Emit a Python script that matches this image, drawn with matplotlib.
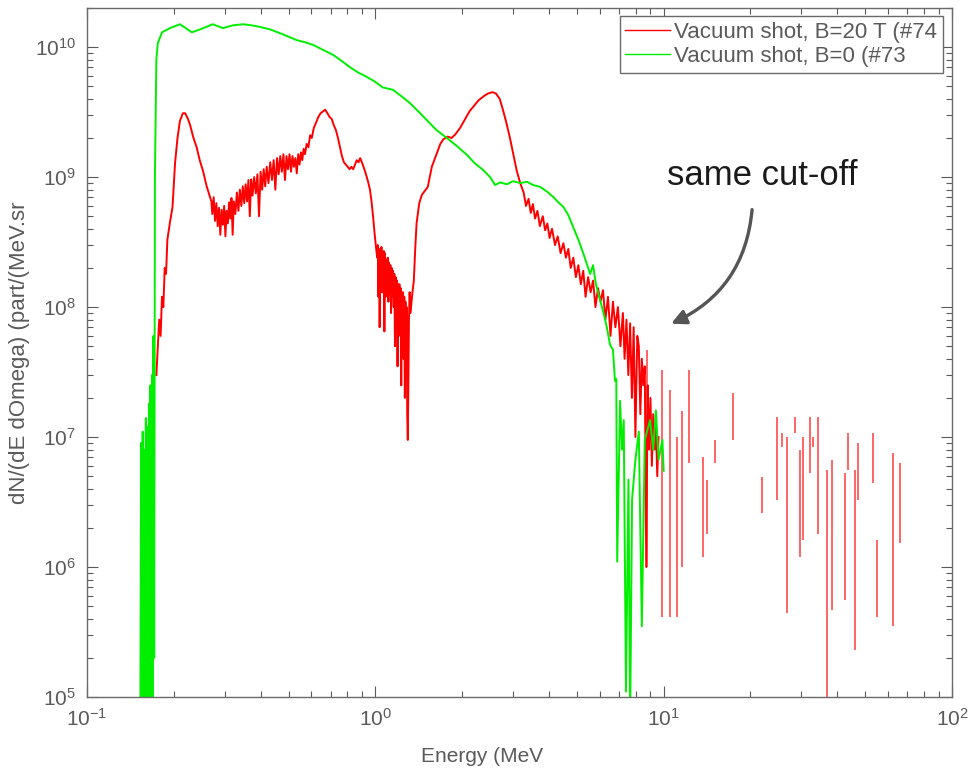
import numpy as np
import matplotlib
matplotlib.use("Agg")
import matplotlib.pyplot as plt

plt.rcParams['font.family'] = ['Liberation Sans', 'DejaVu Sans']
plt.rcParams['mathtext.fontset'] = 'custom'
plt.rcParams['mathtext.rm'] = 'Liberation Sans'
plt.rcParams['mathtext.it'] = 'Liberation Sans:italic'
plt.rcParams['mathtext.bf'] = 'Liberation Sans:bold'

# ---------------- data ----------------
# B = 0 (#73), green
green_E = [0.153, 0.154, 0.155, 0.156, 0.157, 0.158, 0.159, 0.160, 0.161, 0.162,
           0.163, 0.164, 0.165, 0.166, 0.167, 0.168, 0.169, 0.170, 0.171, 0.172,
           0.174, 0.176, 0.182, 0.194, 0.210, 0.220, 0.231, 0.247, 0.273, 0.296,
           0.320, 0.348, 0.373, 0.398, 0.431, 0.467, 0.506, 0.535, 0.570, 0.609,
           0.660, 0.715, 0.760, 0.817, 0.870, 0.934, 1.00, 1.06, 1.15, 1.23,
           1.32, 1.41, 1.52, 1.63, 1.77, 1.92, 2.08, 2.21, 2.37, 2.50,
           2.60, 2.71, 2.86, 3.00, 3.18, 3.36, 3.52, 3.73, 3.95, 4.15,
           4.31, 4.49, 4.67, 4.86, 5.06, 5.26, 5.43, 5.56, 5.69, 5.82,
           6.02, 6.21, 6.35, 6.52, 6.67, 6.78, 6.85, 6.90, 7.06, 7.17,
           7.27, 7.40, 7.55, 7.65, 7.77, 7.98, 8.20, 8.40, 8.60, 8.97,
           9.20, 9.40, 9.60, 9.90, 10.0]
green_N = [3e4, 9e6, 4e4, 1.1e7, 3e4, 8e6, 5e4, 1.4e7, 3e4, 1.2e7,
           2e4, 1.8e7, 4e4, 2.5e7, 3e4, 3.0e7, 5e4, 6.0e7, 2e5, 1.0e9,
           8.0e9, 1.07e10, 1.3e10, 1.4e10, 1.5e10, 1.4e10, 1.3e10, 1.37e10, 1.5e10, 1.4e10,
           1.47e10, 1.5e10, 1.47e10, 1.43e10, 1.37e10, 1.28e10, 1.19e10, 1.13e10, 1.09e10, 1.04e10,
           9.5e9, 8.7e9, 7.9e9, 7.0e9, 6.4e9, 5.9e9, 5.4e9, 4.9e9, 4.7e9, 4.2e9,
           3.7e9, 3.2e9, 2.7e9, 2.3e9, 2.0e9, 1.73e9, 1.48e9, 1.28e9, 1.13e9, 1.0e9,
           8.7e8, 9.1e8, 8.8e8, 9.3e8, 9.0e8, 9.2e8, 8.7e8, 8.4e8, 7.7e8, 7.0e8,
           6.4e8, 5.9e8, 5.1e8, 4.1e8, 3.3e8, 2.6e8, 2.1e8, 1.8e8, 2.1e8, 1.5e8,
           1.13e8, 8.7e7, 7.0e7, 5.1e7, 4.7e7, 2.7e7, 2.8e7, 1.1e6, 1.9e7, 8.0e6,
           1.35e7, 1.1e5, 4.7e6, 6.0e4, 3.3e6, 6.7e6, 1.1e7, 3.5e5, 9.5e6, 1.35e7,
           8.0e6, 1.6e7, 6.7e6, 9.5e6, 5.5e6]

# B = 20 T (#74), red
red_E = [0.174, 0.176, 0.178, 0.180, 0.182, 0.184, 0.186, 0.188, 0.190, 0.194,
         0.198, 0.202, 0.206, 0.210, 0.215, 0.219, 0.224, 0.228, 0.234, 0.240,
         0.246, 0.253, 0.260, 0.266, 0.270, 0.272, 0.275, 0.278, 0.281, 0.284,
         0.287, 0.290, 0.293, 0.296, 0.299, 0.302, 0.305, 0.308, 0.311, 0.314,
         0.317, 0.320, 0.323, 0.327, 0.331, 0.335, 0.339, 0.343, 0.347, 0.351,
         0.355, 0.359, 0.363, 0.367, 0.371, 0.375, 0.380, 0.385, 0.390, 0.395,
         0.400, 0.405, 0.410, 0.415, 0.420, 0.426, 0.432, 0.438, 0.444, 0.450,
         0.456, 0.462, 0.468, 0.474, 0.480, 0.486, 0.492, 0.498, 0.504, 0.510,
         0.516, 0.522, 0.528, 0.534, 0.540, 0.546, 0.552, 0.558, 0.564, 0.570,
         0.578, 0.586, 0.594, 0.602, 0.612, 0.622, 0.634, 0.646, 0.658, 0.670,
         0.682, 0.694, 0.706, 0.718, 0.730, 0.742, 0.754, 0.766, 0.778, 0.790,
         0.802, 0.814, 0.826, 0.838, 0.850, 0.862, 0.874, 0.886, 0.898, 0.910,
         0.922, 0.934, 0.946, 0.958, 0.970, 0.982, 0.994, 1.005, 1.015, 1.020,
         1.025, 1.030, 1.035, 1.040, 1.045, 1.050, 1.055, 1.060, 1.065, 1.070,
         1.075, 1.080, 1.086, 1.092, 1.098, 1.104, 1.110, 1.116, 1.122, 1.128,
         1.134, 1.140, 1.146, 1.152, 1.158, 1.164, 1.170, 1.176, 1.182, 1.188,
         1.194, 1.200, 1.206, 1.212, 1.218, 1.224, 1.230, 1.236, 1.242, 1.248,
         1.254, 1.260, 1.266, 1.272, 1.278, 1.284, 1.290, 1.296, 1.302, 1.308,
         1.315, 1.322, 1.330, 1.345, 1.360, 1.375, 1.390, 1.420, 1.450, 1.520,
         1.570, 1.630, 1.680, 1.720, 1.780, 1.840, 1.900, 1.970, 2.050, 2.120,
         2.190, 2.280, 2.380, 2.460, 2.550, 2.620, 2.700, 2.770, 2.850, 2.930,
         3.010, 3.090, 3.180, 3.270, 3.330, 3.400, 3.460, 3.520, 3.580, 3.650,
         3.720, 3.810, 3.880, 3.950, 4.020, 4.100, 4.200, 4.290, 4.390, 4.490,
         4.580, 4.670, 4.760, 4.860, 4.960, 5.060, 5.160, 5.260, 5.360, 5.470,
         5.580, 5.690, 5.800, 5.920, 6.040, 6.160, 6.280, 6.410, 6.540, 6.670,
         6.800, 6.940, 7.080, 7.220, 7.320, 7.430, 7.540, 7.650, 7.760, 7.870,
         7.980, 8.100, 8.200, 8.300, 8.400, 8.500, 8.600, 8.700, 8.800, 8.900,
         9.000, 9.100, 9.200, 9.300, 9.400, 9.500, 9.600]
red_N = [3.0e7, 5.0e7, 8.0e7, 6.0e7, 1.2e8, 1.0e8, 2.0e8, 1.8e8, 3.3e8, 4.5e8,
         5.9e8, 1.28e9, 2.0e9, 2.7e9, 3.1e9, 3.1e9, 2.8e9, 2.5e9, 2.0e9, 1.7e9,
         1.35e9, 1.1e9, 8.5e8, 7.2e8, 6.5e8, 5.2e8, 7.0e8, 4.6e8, 6.3e8, 4.2e8,
         5.8e8, 3.6e8, 5.6e8, 4.3e8, 6.0e8, 3.5e8, 5.5e8, 4.4e8, 6.4e8, 4.8e8,
         6.9e8, 3.6e8, 6.5e8, 5.2e8, 7.6e8, 5.5e8, 8.0e8, 6.0e8, 8.5e8, 6.3e8,
         8.8e8, 6.5e8, 9.5e8, 5.0e8, 9.6e8, 7.2e8, 1.0e9, 7.5e8, 1.05e9, 5.0e8,
         1.1e9, 8.0e8, 1.15e9, 8.5e8, 1.2e9, 9.0e8, 1.3e9, 9.5e8, 1.35e9, 8.0e8,
         1.4e9, 1.05e9, 1.45e9, 1.1e9, 1.5e9, 9.5e8, 1.45e9, 1.15e9, 1.5e9, 1.1e9,
         1.45e9, 1.2e9, 1.4e9, 1.07e9, 1.5e9, 1.25e9, 1.55e9, 1.35e9, 1.65e9, 1.5e9,
         1.8e9, 1.7e9, 2.1e9, 2.0e9, 2.4e9, 2.6e9, 2.9e9, 3.1e9, 3.2e9, 3.3e9,
         3.1e9, 2.9e9, 2.8e9, 2.5e9, 2.3e9, 2.0e9, 1.7e9, 1.45e9, 1.3e9, 1.25e9,
         1.2e9, 1.15e9, 1.2e9, 1.15e9, 1.25e9, 1.35e9, 1.3e9, 1.4e9, 1.3e9, 1.2e9,
         1.1e9, 1.0e9, 9.0e8, 8.0e8, 6.5e8, 5.0e8, 3.7e8, 2.9e8, 2.4e8, 3.0e8,
         1.2e8, 2.8e8, 7.0e7, 2.6e8, 1.5e8, 2.9e8, 1.3e8, 2.5e8, 1.4e8, 2.7e8,
         6.5e7, 2.6e8, 1.2e8, 2.3e8, 1.5e8, 2.4e8, 1.1e8, 2.2e8, 1.3e8, 2.1e8,
         9.0e7, 2.0e8, 1.2e8, 1.9e8, 1.0e8, 1.8e8, 5.0e7, 1.7e8, 9.0e7, 1.6e8,
         3.5e7, 1.5e8, 8.0e7, 1.5e8, 6.0e7, 1.4e8, 2.5e7, 1.3e8, 7.0e7, 1.3e8,
         4.0e7, 1.2e8, 2.0e7, 1.1e8, 5.0e7, 1.0e8, 1.5e7, 9.5e6, 2.5e7, 8.0e7,
         1.3e8, 9.0e7, 1.0e8, 1.3e8, 1.6e8, 2.8e8, 4.4e8, 6.3e8, 7.3e8, 8.4e8,
         1.2e9, 1.5e9, 1.8e9, 1.95e9, 2.05e9, 2.0e9, 2.15e9, 2.4e9, 2.8e9, 3.2e9,
         3.5e9, 3.9e9, 4.2e9, 4.4e9, 4.5e9, 4.4e9, 4.0e9, 3.3e9, 2.6e9, 2.0e9,
         1.5e9, 1.13e9, 9.0e8, 7.6e8, 6.0e8, 6.8e8, 5.3e8, 6.2e8, 4.8e8, 5.5e8,
         4.2e8, 5.0e8, 3.9e8, 4.4e8, 3.4e8, 4.0e8, 3.0e8, 3.5e8, 2.6e8, 3.1e8,
         2.4e8, 2.8e8, 2.0e8, 2.4e8, 1.7e8, 2.1e8, 1.5e8, 1.9e8, 1.2e8, 1.7e8,
         1.3e8, 1.6e8, 1.0e8, 1.4e8, 1.1e8, 1.35e8, 8.0e7, 1.2e8, 6.0e7, 1.1e8,
         7.0e7, 1.0e8, 5.0e7, 9.0e7, 4.0e7, 8.0e7, 3.0e7, 7.5e7, 2.0e7, 7.0e7,
         1.0e7, 6.0e7, 5.0e7, 1.5e7, 4.0e7, 2.5e7, 3.5e7, 1.0e6, 2.5e7, 8.0e6,
         2.0e7, 6.0e6, 1.5e7, 8.0e6, 1.2e7, 5.0e6, 1.0e7]

# isolated high-energy fragments of the B = 20 T spectrum
spike_E = [8.76, 9.87, 10.5, 11.1, 11.6, 12.2, 13.7, 14.1, 15.1, 17.4,
           21.9, 24.7, 25.7, 26.8, 28.6, 29.7, 30.4, 32.2, 33.0, 34.3,
           36.9, 38.4, 42.6, 43.6, 46.1, 47.2, 53.2, 54.9, 62.5, 66.1]
spike_lo = [1.0e6, 4.1e5, 4.1e5, 4.1e5, 1.0e6, 6.3e6, 1.2e6, 1.8e6, 6.3e6, 9.5e6,
            2.6e6, 3.3e6, 8.4e6, 4.4e5, 1.07e7, 1.2e6, 1.6e6, 5.3e6, 8.4e6, 1.8e6,
            5.0e4, 4.7e5, 5.6e5, 5.6e6, 2.3e5, 3.3e6, 4.4e6, 4.1e5, 3.5e5, 1.53e6]
spike_hi = [4.7e7, 3.3e7, 2.3e7, 1.0e7, 1.6e7, 3.3e7, 7.0e6, 4.7e6, 9.5e6, 2.2e7,
            4.9e6, 1.43e7, 1.07e7, 1.0e7, 1.43e7, 7.9e6, 1.0e7, 1.43e7, 1.0e7, 1.43e7,
            5.6e6, 6.7e6, 5.3e6, 1.07e7, 5.6e6, 9.0e6, 1.07e7, 1.6e6, 7.5e6, 6.3e6]

legend_labels = ["Vacuum shot, B=20 T (#74", "Vacuum shot, B=0 (#73"]
annotation_text = "same cut-off"

# ---------------- figure ----------------
fig = plt.figure(figsize=(9.68, 7.68), dpi=100)
ax = fig.add_axes([87/968, 71/768, 865/968, 689/768])

gray = '#5a5a5a'
lr, = ax.plot(red_E, red_N, color='#ff0000', lw=1.4, label=legend_labels[0])
ax.vlines(spike_E, spike_lo, spike_hi, color='#ff0000', lw=1.2, alpha=0.7)
lg, = ax.plot(green_E, green_N, color='#00ee00', lw=1.4, label=legend_labels[1])

ax.set_xscale('log')
ax.set_yscale('log')
ax.set_xlim(0.1, 100)
ax.set_ylim(1e5, 2e10)

ax.tick_params(which='both', direction='in', top=True, right=True,
               colors=gray, labelsize=15, width=0.8)
ax.tick_params(which='major', length=8, pad=8)
ax.tick_params(which='minor', length=4)
for s in ax.spines.values():
    s.set_color('#6a6a6a')
    s.set_linewidth(1.0)

ax.set_xlabel("Energy (MeV", fontsize=15, color=gray)
ax.xaxis.set_label_coords(0.457, -0.072)
ax.set_ylabel("dN/(dE dOmega) (part/(MeV.sr", fontsize=16, color=gray)
ax.yaxis.set_label_coords(-0.066, 0.5)

leg = ax.legend(handles=[lr, lg], loc='upper left', bbox_to_anchor=(0.616, 0.988),
                fontsize=16, frameon=True, fancybox=False, framealpha=1,
                edgecolor='#6a6a6a', handlelength=2.0, handletextpad=0.2,
                borderpad=0.25, labelspacing=0.15, borderaxespad=0)
for t in leg.get_texts():
    t.set_color(gray)
for h in leg.get_lines():
    h.set_linewidth(1.0)
leg.get_frame().set_linewidth(1.0)

ax.annotate("", xy=(10.4, 7.3e7), xytext=(20.3, 5.9e8),
            arrowprops=dict(arrowstyle='-|>', color='#555555', lw=2.4,
                            mutation_scale=22,
                            connectionstyle='arc3,rad=-0.3'))
ax.text(21.9, 1.03e9, annotation_text, fontsize=25, color='#1a1a1a',
        ha='center', va='center')

fig.savefig("out.png", dpi=100)
